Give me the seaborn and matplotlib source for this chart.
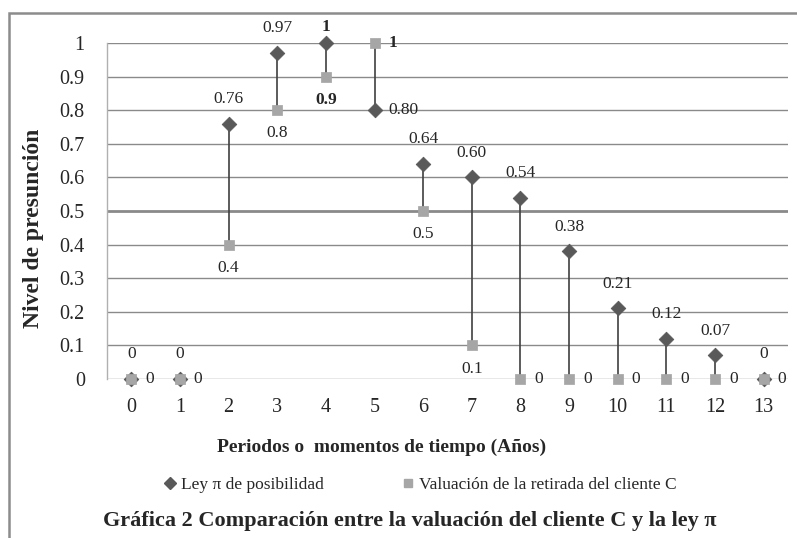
import matplotlib
matplotlib.use("Agg")
import matplotlib.pyplot as plt
from matplotlib.patches import Rectangle
from matplotlib.lines import Line2D
import pandas as pd
import seaborn as sns

# data
periods = list(range(14))
ley_pi = [0, 0, 0.76, 0.97, 1, 0.80, 0.64, 0.60, 0.54, 0.38, 0.21, 0.12, 0.07, 0]
valuacion = [0, 0, 0.4, 0.8, 0.9, 1, 0.5, 0.1, 0, 0, 0, 0, 0, 0]
ley_labels = ["0", "0", "0.76", "0.97", "1", "0.80", "0.64", "0.60", "0.54",
              "0.38", "0.21", "0.12", "0.07", "0"]
val_labels = ["0", "0", "0.4", "0.8", "0.9", "1", "0.5", "0.1", "0", "0",
              "0", "0", "0", "0"]
y_ticks = [0, 0.1, 0.2, 0.3, 0.4, 0.5, 0.6, 0.7, 0.8, 0.9, 1]
y_ticklabels = ["0", "0.1", "0.2", "0.3", "0.4", "0.5", "0.6", "0.7", "0.8", "0.9", "1"]

# where each data label sits
ley_pos = ["above"] * 14
ley_pos[4] = "above_tight"
ley_pos[5] = "right"
val_pos = ["right", "right", "below", "below", "below", "right", "below", "below",
           "right", "right", "right", "right", "right", "right"]
ley_bold = [i == 4 for i in periods]
val_bold = [i in (4, 5) for i in periods]

df = pd.DataFrame({"periodo": periods, "ley": ley_pi, "val": valuacion})

sns.set_style("white")
plt.rcParams["font.family"] = ["Liberation Serif", "DejaVu Serif"]

DARK = "#595959"
LIGHT = "#a6a6a6"

fig = plt.figure(figsize=(7.97, 5.38), dpi=100)
ax = fig.add_axes([107 / 797, 1 - 379 / 538, (788 - 107) / 797, (379 - 43) / 538])

# gridlines
for t in y_ticks:
    lw = 2.0 if t == 0.5 else 1.0
    ax.axhline(t, color="#8a8a8a", lw=lw, zorder=0)

# high-low lines
ax.vlines(df["periodo"], df[["ley", "val"]].min(axis=1), df[["ley", "val"]].max(axis=1),
          color="#404040", lw=1.2, zorder=1)

sns.scatterplot(data=df, x="periodo", y="ley", marker="D", s=55, color=DARK,
                edgecolor=DARK, ax=ax, zorder=3, clip_on=False, legend=False)
sns.scatterplot(data=df, x="periodo", y="val", marker="s", s=42, color=LIGHT,
                edgecolor=LIGHT, ax=ax, zorder=4, clip_on=False, legend=False)


def put_labels(ys, labels, pos, bold):
    for x, y, lab, p, b in zip(periods, ys, labels, pos, bold):
        if p == "above":
            off, ha, va = (0, 12), "center", "bottom"
        elif p == "above_tight":
            off, ha, va = (0, 6), "center", "bottom"
        elif p == "below":
            off, ha, va = (0, -11), "center", "top"
        else:
            off, ha, va = (10, 0), "left", "center"
        ax.annotate(lab, (x, y), xytext=off, textcoords="offset points",
                    ha=ha, va=va, fontsize=12.5,
                    fontweight="bold" if b else "normal", color="#262626",
                    annotation_clip=False, zorder=5)


put_labels(ley_pi, ley_labels, ley_pos, ley_bold)
put_labels(valuacion, val_labels, val_pos, val_bold)

ax.set_xlim(-0.5, 13.5)
ax.set_ylim(0, 1)
ax.set_xticks(periods)
ax.set_xticklabels([str(p) for p in periods], fontsize=14.5)
ax.set_yticks(y_ticks)
ax.set_yticklabels(y_ticklabels, fontsize=14.5)
ax.tick_params(axis="x", length=0, pad=14)
ax.tick_params(axis="y", length=0, pad=16)
for s in ["top", "right", "bottom"]:
    ax.spines[s].set_visible(False)
ax.spines["left"].set_color("#b0b0b0")
ax.spines["left"].set_linewidth(1.0)

ax.set_xlabel("Periodos o  momentos de tiempo (Años)", fontsize=14, fontweight="bold")
ax.xaxis.set_label_coords((382 - 107) / 681, -(439 - 379) / 336)
ax.set_ylabel("Nivel de presunción", fontsize=17, fontweight="bold")
ax.yaxis.set_label_coords(-(107 - 44) / 681, (379 - 228) / 336)

handles = [
    Line2D([], [], marker="D", color=DARK, ls="none", markersize=6),
    Line2D([], [], marker="s", color=LIGHT, ls="none", markersize=6),
]
fig.legend(handles, ["Ley π de posibilidad", "Valuación de la retirada del cliente C"],
           loc="center", bbox_to_anchor=(419 / 797, 1 - 485 / 538), ncol=2,
           frameon=False, fontsize=12.5, handletextpad=0.1, columnspacing=4.4,
           handlelength=1)

fig.text(410 / 797, 1 - 521 / 538,
         "Gráfica 2 Comparación entre la valuación del cliente C y la ley π",
         ha="center", va="center", fontsize=16, fontweight="bold")

# outer chart border
fig.patches.append(Rectangle((9 / 797, -0.05), 1.0, (538 - 13) / 538 + 0.05,
                             transform=fig.transFigure, fill=False,
                             edgecolor="#8c8c8c", lw=1.8))

fig.savefig("out.png", dpi=100)
